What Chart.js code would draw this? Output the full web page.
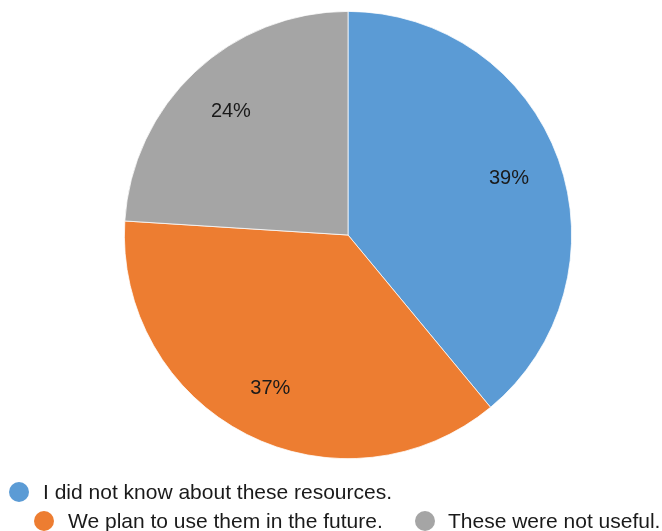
<!DOCTYPE html>
<html>
<head>
<meta charset="utf-8">
<title>Resource awareness</title>
<script src="https://cdn.jsdelivr.net/npm/chart.js@4/dist/chart.umd.min.js"></script>
<style>
  html, body { margin: 0; padding: 0; background: #ffffff; }
  #wrap { position: relative; width: 662px; height: 531px; }
</style>
</head>
<body>
<div id="wrap"><canvas id="chart" width="662" height="531"></canvas></div>
<script>
// Survey answers and their shares (percent)
const categories = [
  'I did not know about these resources.',
  'We plan to use them in the future.',
  'These were not useful.'
];
const shares = [39, 37, 24];
const sliceColors = ['#5B9BD5', '#ED7D31', '#A5A5A5'];

const FONT = '"Liberation Sans", Arial, Helvetica, sans-serif';

// Percent labels placed inside each slice
const sliceLabels = {
  id: 'sliceLabels',
  afterDatasetsDraw(chart) {
    const ctx = chart.ctx;
    const meta = chart.getDatasetMeta(0);
    const total = shares.reduce((a, b) => a + b, 0);
    ctx.save();
    ctx.font = '20px ' + FONT;
    ctx.fillStyle = '#1a1a1a';
    ctx.textAlign = 'center';
    ctx.textBaseline = 'middle';
    meta.data.forEach((arc, i) => {
      const p = arc.getProps(['x', 'y', 'startAngle', 'endAngle', 'outerRadius'], true);
      const mid = (p.startAngle + p.endAngle) / 2;
      const r = p.outerRadius * 0.765;
      const pct = Math.round(shares[i] / total * 100) + '%';
      ctx.fillText(pct, p.x + Math.cos(mid) * r, p.y + Math.sin(mid) * r + 1);
    });
    ctx.restore();
  }
};

// Legend in two rows beneath the pie
const legendRows = {
  id: 'legendRows',
  afterDraw(chart) {
    const ctx = chart.ctx;
    const spots = [
      { cx: 19, cy: 492, tx: 43 },
      { cx: 44, cy: 521, tx: 68 },
      { cx: 425, cy: 521, tx: 448 }
    ];
    ctx.save();
    ctx.font = '21px ' + FONT;
    ctx.textBaseline = 'middle';
    ctx.textAlign = 'left';
    categories.forEach((name, i) => {
      const s = spots[i];
      ctx.beginPath();
      ctx.arc(s.cx, s.cy, 10, 0, Math.PI * 2);
      ctx.fillStyle = sliceColors[i];
      ctx.fill();
      ctx.fillStyle = '#1a1a1a';
      ctx.fillText(name, s.tx, s.cy + 1);
    });
    ctx.restore();
  }
};

new Chart(document.getElementById('chart'), {
  type: 'pie',
  data: {
    labels: categories,
    datasets: [{
      data: shares,
      backgroundColor: sliceColors,
      borderColor: '#ffffff',
      borderWidth: 0.75
    }]
  },
  options: {
    responsive: false,
    animation: false,
    layout: { padding: { top: 11, bottom: 72, left: 124, right: 90 } },
    plugins: {
      legend: { display: false },
      tooltip: { enabled: false }
    }
  },
  plugins: [sliceLabels, legendRows]
});
</script>
</body>
</html>
